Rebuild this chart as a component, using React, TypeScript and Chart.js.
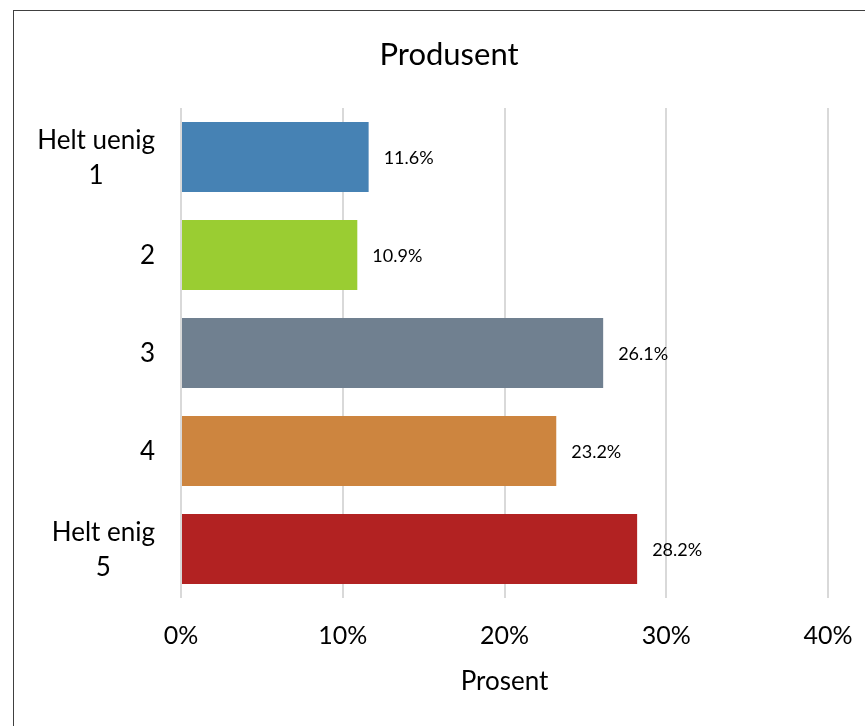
import React, { useEffect, useRef } from "react";
import { Chart, registerables } from "chart.js";

Chart.register(...registerables);

const categories: string[][] = [["Helt uenig", "1"], ["2"], ["3"], ["4"], ["Helt enig", "5"]];
const values: number[] = [11.6, 10.9, 26.1, 23.2, 28.2];
const colors: string[] = ["#4682B4", "#9ACD32", "#708090", "#CD853F", "#B22222"];
const xTicks: number[] = [0, 10, 20, 30, 40];
const titleText = "Produsent";
const xTitleText = "Prosent";

const FONT = "Lato, 'Open Sans', sans-serif";

const titlePlugin = {
  id: "customTitle",
  afterDraw(chart: any) {
    const { ctx } = chart;
    ctx.save();
    ctx.font = `31px ${FONT}`;
    ctx.fillStyle = "#000";
    ctx.textBaseline = "alphabetic";
    ctx.textAlign = "center";
    ctx.fillText(titleText, chart.width / 2, 65);
    ctx.restore();
  },
};

const yLabelPlugin = {
  id: "yLabels",
  afterDraw(chart: any) {
    const { ctx } = chart;
    const yScale = chart.scales.y;
    ctx.save();
    ctx.font = `26px ${FONT}`;
    ctx.fillStyle = "#000";
    ctx.textBaseline = "alphabetic";
    ctx.textAlign = "center";
    const lh = 35;
    const rightEdge = 155;
    categories.forEach((lines, i) => {
      const cy = yScale.getPixelForValue(i);
      const w = Math.max(...lines.map((l) => ctx.measureText(l).width));
      const cx = rightEdge - w / 2;
      const n = lines.length;
      lines.forEach((l, j) => ctx.fillText(l, cx, cy + 9 + (j - (n - 1) / 2) * lh));
    });
    ctx.restore();
  },
};

const dataLabelPlugin = {
  id: "dataLabels",
  afterDatasetsDraw(chart: any) {
    const { ctx } = chart;
    const meta = chart.getDatasetMeta(0);
    ctx.save();
    ctx.font = `18px ${FONT}`;
    ctx.fillStyle = "#000";
    ctx.textBaseline = "alphabetic";
    ctx.textAlign = "left";
    meta.data.forEach((bar: any, i: number) => {
      ctx.fillText(values[i].toFixed(1) + "%", bar.x + 15, bar.y + 6.5);
    });
    ctx.restore();
  },
};

export default function App() {
  const ref = useRef<HTMLCanvasElement | null>(null);
  useEffect(() => {
    if (!ref.current) return;
    document.body.style.overflow = "hidden";
    const chart = new Chart(ref.current, {
      type: "bar",
      data: {
        labels: categories.map((c) => c.join(" ")),
        datasets: [
          {
            data: values,
            backgroundColor: colors,
            barPercentage: 0.714,
            categoryPercentage: 1,
          },
        ],
      },
      options: {
        indexAxis: "y",
        animation: false,
        responsive: false,
        layout: { padding: { left: 0, right: 70, top: 108, bottom: 0 } },
        plugins: {
          legend: { display: false },
          tooltip: { enabled: false },
          title: { display: false },
        },
        scales: {
          x: {
            min: 0,
            max: 40,
            afterBuildTicks: (scale: any) => {
              scale.ticks = xTicks.map((v) => ({ value: v }));
            },
            afterFit: (scale: any) => {
              scale.height = 128;
            },
            grid: { color: "#d9d9d9", lineWidth: 2, drawTicks: false },
            border: { display: false },
            ticks: {
              padding: 23,
              color: "#000",
              font: { family: FONT, size: 25 },
              callback: (v: any) => v + "%",
            },
            title: {
              display: true,
              text: xTitleText,
              color: "#000",
              font: { family: FONT, size: 26 },
              padding: { top: 0, bottom: 29 },
            },
          },
          y: {
            afterFit: (scale: any) => {
              scale.width = 181;
            },
            grid: { display: false },
            border: { display: false },
            ticks: { display: false },
          },
        },
      },
      plugins: [titlePlugin, yLabelPlugin, dataLabelPlugin],
    });
    return () => chart.destroy();
  }, []);
  return (
    <div style={{ position: "fixed", left: 0, top: 0, width: 865, height: 726, overflow: "hidden", background: "#fff" }}>
      <div
        style={{
          position: "absolute",
          left: 13,
          top: 10,
          width: 1000,
          height: 1000,
          borderLeft: "1px solid #404040",
          borderTop: "1px solid #404040",
        }}
      />
      <canvas ref={ref} width={898} height={726} style={{ position: "absolute", left: 0, top: 0, width: 898, height: 726 }} />
    </div>
  );
}
